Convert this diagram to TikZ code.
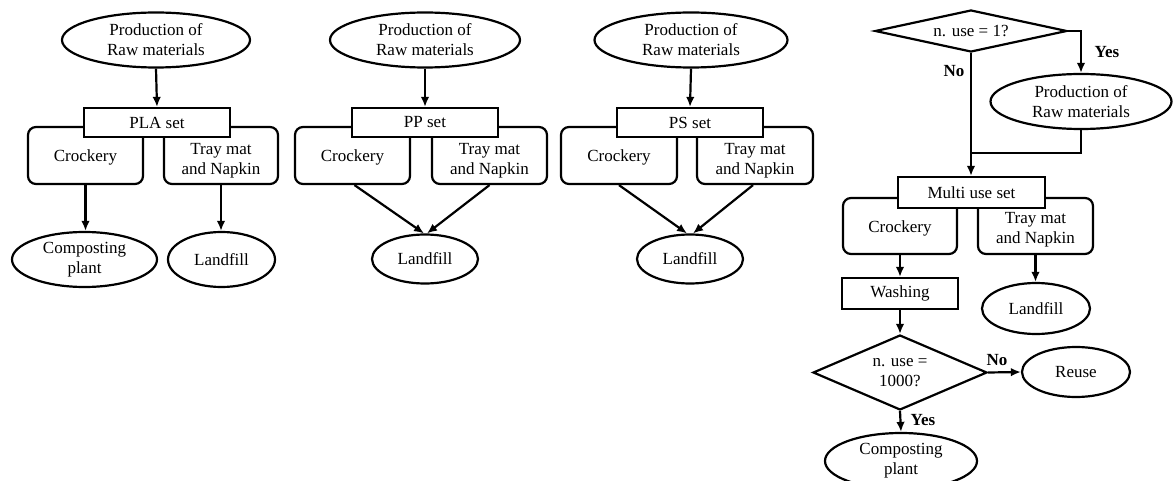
\documentclass[tikz,border=0pt]{standalone}
\usepackage{fontspec}
\setmainfont{Liberation Serif}
\usetikzlibrary{shapes.geometric,arrows.meta}
\begin{document}
\begin{tikzpicture}[x=1pt,y=-1pt,
  every node/.style={font=\fontsize{17}{20}\selectfont, inner sep=0pt, line width=2.2pt},
  ell/.style={draw, ellipse, align=center},
  box/.style={draw, rounded corners=8pt},
  btxt/.style={align=center},
  rbox/.style={draw, fill=white, rectangle},
  dia/.style={draw, diamond, align=center},
  arr/.style={line width=2.2pt, -{Latex[length=10pt,width=8.5pt]}},
  ln/.style={line width=2.2pt},
  lab/.style={font=\fontsize{17}{20}\selectfont\bfseries}
]
\useasboundingbox (0,0) rectangle (1173,481);

% ---------- PLA column ----------
\node[ell, minimum width=188, minimum height=55] (p1) at (156,40) {Production of\\Raw materials};
\node[box, minimum width=115, minimum height=57] (c1) at (85.5,155.5) {};
\node[btxt] (c1t) at ([yshift=-2pt]c1.center) {Crockery};
\node[box, minimum width=114, minimum height=57] (t1) at (221,155.5) {};
\node[btxt] (t1t) at ([yshift=-5pt]t1.center) {Tray mat\\and Napkin};
\node[rbox, minimum width=146, minimum height=29] (s1) at (157,122.5) {PLA set};
\node[ell, minimum width=145, minimum height=55] (k1) at (84.5,259.5) {Composting\\plant};
\node[ell, minimum width=107, minimum height=55] (l1) at (221.5,259.5) {Landfill};
\draw[arr] (p1.south) -- (s1.north);
\draw[arr] (c1.south) -- (c1.south |- k1.north);
\draw[arr] (t1.south) -- (t1.south |- l1.north);

% ---------- PP column ----------
\node[ell, minimum width=190, minimum height=55] (p2) at (425,40) {Production of\\Raw materials};
\node[box, minimum width=115, minimum height=57] (c2) at (352.5,155.5) {};
\node[btxt] (c2t) at ([yshift=-2pt]c2.center) {Crockery};
\node[box, minimum width=115, minimum height=57] (t2) at (489.5,155.5) {};
\node[btxt] (t2t) at ([yshift=-5pt]t2.center) {Tray mat\\and Napkin};
\node[rbox, minimum width=146, minimum height=29] (s2) at (425,122.5) {PP set};
\node[ell, minimum width=106, minimum height=49] (l2) at (425,259) {Landfill};
\draw[arr] (p2.south) -- (s2.north);
\draw[arr] ([xshift=2pt]c2.south) -- ([xshift=-1pt]l2.north);
\draw[arr] (t2.south) -- ([xshift=2pt]l2.north);

% ---------- PS column ----------
\node[ell, minimum width=193, minimum height=55] (p3) at (691,40) {Production of\\Raw materials};
\node[box, minimum width=116, minimum height=57] (c3) at (619,155.5) {};
\node[btxt] (c3t) at ([yshift=-2pt]c3.center) {Crockery};
\node[box, minimum width=116, minimum height=57] (t3) at (755,155.5) {};
\node[btxt] (t3t) at ([yshift=-5pt]t3.center) {Tray mat\\and Napkin};
\node[rbox, minimum width=146, minimum height=29] (s3) at (690,122.5) {PS set};
\node[ell, minimum width=106, minimum height=49] (l3) at (690,259) {Landfill};
\draw[arr] (p3.south) -- (s3.north);
\draw[arr] (c3.south) -- ([xshift=-3pt]l3.north);
\draw[arr] ([xshift=-2pt]t3.south) -- ([xshift=3pt]l3.north);

% ---------- Multi use column ----------
\node[dia, aspect=4.5, minimum width=192, minimum height=42] (d1) at (971,31) {n. use = 1?};
\node[ell, minimum width=181, minimum height=55] (p4) at (1081,101.5) {Production of\\Raw materials};
\node[box, minimum width=114, minimum height=56] (c4) at (900,226) {};
\node[btxt] (c4t) at ([yshift=-2pt]c4.center) {Crockery};
\node[box, minimum width=115, minimum height=56] (t4) at (1035.5,226) {};
\node[btxt] (t4t) at ([yshift=-4pt]t4.center) {Tray mat\\and Napkin};
\node[rbox, minimum width=147, minimum height=31] (s4) at (971.5,192.5) {Multi use set};
\node[rbox, minimum width=116, minimum height=31] (w4) at (900,293.5) {Washing};
\node[ell, minimum width=108, minimum height=51] (l4) at (1036,308.5) {Landfill};
\node[dia, aspect=2.3, minimum width=174, minimum height=75] (d2) at (900,372.5) {n. use =\\1000?};
\node[ell, minimum width=108, minimum height=50] (r4) at (1076,372) {Reuse};
\node[ell, minimum width=152, minimum height=56] (k4) at (901,461) {Composting\\plant};
\coordinate (j4) at (971,153);

\draw[arr] (d1.south) -- (d1.south |- s4.north);
\draw[arr] (d1.east) -| (p4.north);
\draw[ln] (p4.south) |- (j4);
\draw[arr] (c4.south) -- (w4.north);
\draw[arr] (w4.south) -- (d2.north);
\draw[arr] (d2.east) -- (r4.west);
\draw[arr] (d2.south) -- (k4.north);
\draw[arr] (t4.south) -- (t4.south |- l4.north);

\node[lab] (no1) at (954,71) {No};
\node[lab] (yes1) at (1107,52) {Yes};
\node[lab] (no2) at (997,360) {No};
\node[lab] (yes2) at (923,420) {Yes};
\end{tikzpicture}
\end{document}
